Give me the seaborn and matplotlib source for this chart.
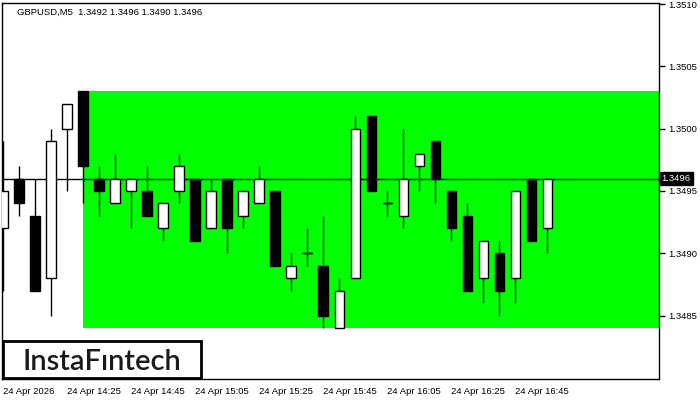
import pandas as pd
import seaborn as sns
import matplotlib.pyplot as plt
from matplotlib.patches import Rectangle
from matplotlib.transforms import blended_transform_factory

# GBPUSD M5 candles (oldest first)
opens = [1.3492, 1.3496, 1.3493, 1.3488, 1.3500, 1.3503, 1.3496, 1.3494, 1.3495, 1.3495,
         1.3492, 1.3495, 1.3496, 1.3492, 1.3496, 1.3493, 1.3494, 1.3495, 1.3488, 1.3490,
         1.3489, 1.3484, 1.3488, 1.3501, 1.3494, 1.3493, 1.3497, 1.3499, 1.3495, 1.3493,
         1.3488, 1.3490, 1.3488, 1.3496, 1.3492]
highs = [1.3499, 1.3497, 1.3496, 1.3500, 1.3502, 1.3503, 1.3497, 1.3498, 1.3496, 1.3497,
         1.3494, 1.3498, 1.3496, 1.3496, 1.3496, 1.3495, 1.3497, 1.3495, 1.3490, 1.3492,
         1.3493, 1.3488, 1.3501, 1.3501, 1.3495, 1.3500, 1.3498, 1.3499, 1.3495, 1.3494,
         1.3491, 1.3491, 1.3495, 1.3496, 1.3496]
lows = [1.3487, 1.3493, 1.3487, 1.3485, 1.3495, 1.3494, 1.3493, 1.3494, 1.3492, 1.3493,
        1.3491, 1.3494, 1.3491, 1.3492, 1.3490, 1.3492, 1.3494, 1.3489, 1.3487, 1.3489,
        1.3484, 1.3484, 1.3488, 1.3495, 1.3493, 1.3492, 1.3495, 1.3494, 1.3491, 1.3487,
        1.3486, 1.3485, 1.3486, 1.3491, 1.3490]
closes = [1.3495, 1.3494, 1.3487, 1.3499, 1.3502, 1.3497, 1.3495, 1.3496, 1.3496, 1.3493,
          1.3494, 1.3497, 1.3491, 1.3495, 1.3492, 1.3495, 1.3496, 1.3489, 1.3489, 1.3490,
          1.3485, 1.3487, 1.3500, 1.3495, 1.3494, 1.3496, 1.3498, 1.3496, 1.3492, 1.3487,
          1.3491, 1.3487, 1.3495, 1.3491, 1.3496]

time_labels = ['24 Apr 2026', '24 Apr 14:25', '24 Apr 14:45', '24 Apr 15:05', '24 Apr 15:25',
               '24 Apr 15:45', '24 Apr 16:05', '24 Apr 16:25', '24 Apr 16:45']
price_ticks = [1.3485, 1.3490, 1.3495, 1.3500, 1.3505, 1.3510]

# green zone and current price
zone_start = 5
zone_top = 1.3503
zone_bottom = 1.3484
last_price = 1.3496

df = pd.DataFrame({'open': opens, 'high': highs, 'low': lows, 'close': closes})
df['idx'] = range(len(df))
df['up'] = df['close'] >= df['open']

sns.set_style('white')
plt.rcParams['font.family'] = ['Liberation Sans', 'DejaVu Sans']

fig = plt.figure(figsize=(7, 4), dpi=100)
ax = fig.add_axes([2 / 700, 21 / 400, 657 / 700, 376 / 400])

ax.set_xlim(-0.08, 40.98)
ax.set_ylim(1.34799, 1.35101)

# green rectangle
ax.add_patch(Rectangle((zone_start, zone_bottom), 60, zone_top - zone_bottom,
                       facecolor='#00ff00', edgecolor='none', zorder=1))

# current price line
ax.axhline(last_price, color='black', lw=1, zorder=2)

# candles
ax.vlines(df['idx'], df['low'], df['high'], color='black', lw=1, zorder=3)
body_w = 0.6
body_bottom = df[['open', 'close']].min(axis=1)
body_h = (df['close'] - df['open']).abs()
colors = ['white' if u else 'black' for u in df['up']]
ax.bar(df['idx'], body_h, bottom=body_bottom, width=body_w, color=colors,
       edgecolor='black', linewidth=1, zorder=4)
# doji crosses
doji = df[body_h < 1e-7]
ax.hlines(doji['open'], doji['idx'] - body_w / 2, doji['idx'] + body_w / 2,
          color='black', lw=1, zorder=4)

# axes / ticks
for s in ax.spines.values():
    s.set_color('black')
    s.set_linewidth(1)
ax.yaxis.tick_right()
ax.set_yticks(price_ticks)
ax.set_yticklabels([f'{p:.4f}' for p in price_ticks])
ax.set_xticks(range(0, 4 * len(time_labels), 4))
ax.set_xticklabels(time_labels, ha='left')
ax.tick_params(axis='both', direction='out', length=4, width=1, color='black',
               labelsize=6.8, labelcolor='black', pad=2)
ax.tick_params(axis='y', pad=3)
ax.set_xlabel('')
ax.set_ylabel('')

# price label on the axis
trans = blended_transform_factory(ax.transAxes, ax.transData)
ax.text(1.004, last_price, '1.3496', transform=trans, ha='left', va='center',
        fontsize=6.8, color='white', zorder=6, clip_on=False,
        bbox=dict(boxstyle='square,pad=0.2', facecolor='black', edgecolor='black'))

# title
fig.text(17 / 700, 1 - 12 / 400, 'GBPUSD,M5  1.3492 1.3496 1.3490 1.3496',
         ha='left', va='center', fontsize=6.8, color='black')

# logo box
fig.patches.append(Rectangle((3 / 700, 1 - 378 / 400), 198 / 700, 37 / 400,
                             transform=fig.transFigure, facecolor='white',
                             edgecolor='black', linewidth=2, zorder=10))
fig.text(102 / 700, 1 - 369.5 / 400, 'InstaFıntech', ha='center', va='baseline',
         fontsize=21, fontweight='semibold', color='#1a1a1a',
         family=['Lato', 'DejaVu Sans'], zorder=11)

fig.savefig('out.png', dpi=100)
